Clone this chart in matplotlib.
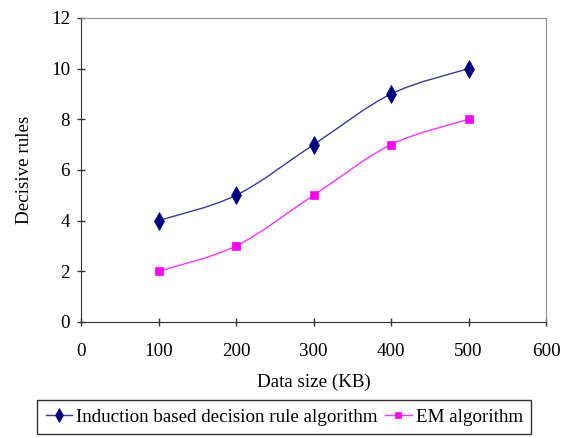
import matplotlib
matplotlib.use('Agg')
import numpy as np
import matplotlib.pyplot as plt
from matplotlib.path import Path
from matplotlib.patches import PathPatch
from matplotlib.lines import Line2D

data_size = [100, 200, 300, 400, 500]
induction_rules = [4, 5, 7, 9, 10]
em_rules = [2, 3, 5, 7, 8]
x_ticks = [0, 100, 200, 300, 400, 500, 600]
y_ticks = [0, 2, 4, 6, 8, 10, 12]

plt.rcParams['font.family'] = ['Liberation Serif', 'DejaVu Serif']
FS = 13.7


def smooth_path(xs, ys):
    # Excel style smoothed line: Catmull-Rom segments as cubic beziers
    pts = np.column_stack([xs, ys]).astype(float)
    verts = [pts[0]]
    codes = [Path.MOVETO]
    n = len(pts)
    for i in range(n - 1):
        p0 = pts[i - 1] if i > 0 else pts[i]
        p1 = pts[i]
        p2 = pts[i + 1]
        p3 = pts[i + 2] if i + 2 < n else pts[i + 1]
        verts += [p1 + (p2 - p0) / 6.0, p2 - (p3 - p1) / 6.0, p2]
        codes += [Path.CURVE4] * 3
    return Path(verts, codes)


fig = plt.figure(figsize=(5.73, 4.38), dpi=100)
ax = fig.add_axes([0.1414, 0.265, 0.8116, 0.694])

series = [
    (induction_rules, '#000080', '#3a3a9a', 'd', 9, 7, 'Induction based decision rule algorithm'),
    (em_rules, '#ff00ff', '#ff33ff', 's', 6, 5, 'EM algorithm'),
]
handles = []
for ys, mcol, lcol, mk, ms, lms, label in series:
    ax.add_patch(PathPatch(smooth_path(data_size, ys), facecolor='none',
                           edgecolor=lcol, lw=1.0))
    ax.plot(data_size, ys, linestyle='none', marker=mk, markersize=ms,
            markeredgewidth=0.5, color=mcol, zorder=3)
    handles.append(Line2D([], [], color=lcol, lw=1.0, marker=mk,
                          markersize=lms, markerfacecolor=mcol,
                          markeredgecolor=mcol, markeredgewidth=0.5,
                          label=label))

ax.set_xlim(0, 600)
ax.set_ylim(0, 12)
ax.set_xticks(x_ticks)
ax.set_yticks(y_ticks)
ax.tick_params(direction='inout', length=6, width=1, labelsize=FS,
               colors='#333333', labelcolor='black', pad=5)
ax.tick_params(axis='x', pad=12)
for side in ['left', 'bottom']:
    ax.spines[side].set_color('#333333')
for side in ['top', 'right']:
    ax.spines[side].set_color('#909090')
ax.set_xlabel('Data size (KB)', fontsize=FS, labelpad=10)
ax.set_ylabel('Decisive rules', fontsize=FS, labelpad=13)

leg = fig.legend(handles=handles, loc='upper left', ncol=2,
                 bbox_to_anchor=(37 / 573, 1 - 400 / 438), fontsize=FS,
                 frameon=True, fancybox=False, edgecolor='black',
                 handlelength=1.4, handletextpad=0.2, columnspacing=0.4,
                 borderaxespad=0, borderpad=0.45)
leg.get_frame().set_linewidth(1.0)

fig.savefig('out.png', dpi=100)
